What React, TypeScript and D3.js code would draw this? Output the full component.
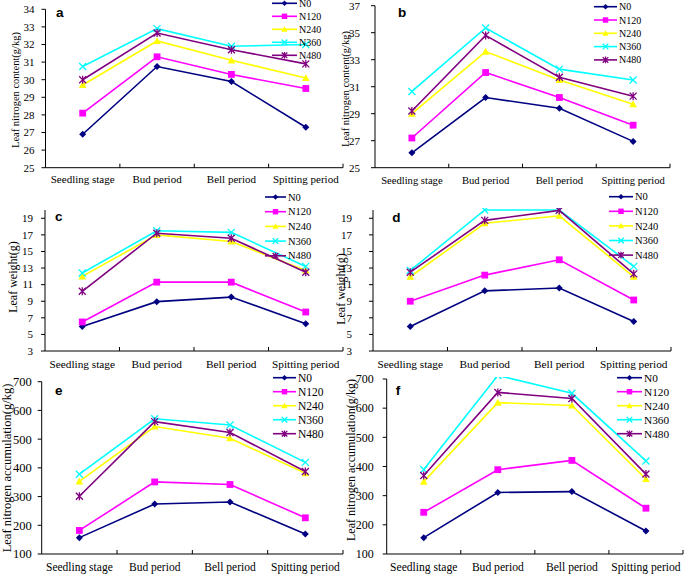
import React from "react";
import * as d3 from "d3";

const categories = ["Seedling stage", "Bud period", "Bell period", "Spitting period"];
const seriesNames = ["N0", "N120", "N240", "N360", "N480"];
const seriesColors = ["#000080", "#FF00FF", "#FFFF00", "#00FFFF", "#800080"];
const seriesMarkers = ["diamond", "square", "triangle", "x", "star"];

// a: leaf nitrogen content, year 1
const aValues = [
  [26.9, 30.75, 29.9, 27.3],
  [28.1, 31.3, 30.3, 29.5],
  [29.7, 32.2, 31.1, 30.1],
  [30.75, 32.9, 31.9, 32.0],
  [30.0, 32.65, 31.7, 30.9],
];
// b: leaf nitrogen content, year 2
const bValues = [
  [26.1, 30.2, 29.4, 26.95],
  [27.2, 32.05, 30.2, 28.15],
  [29.0, 33.6, 31.5, 29.7],
  [30.65, 35.35, 32.3, 31.5],
  [29.2, 34.8, 31.7, 30.3],
];
// c: leaf weight, year 1
const cValues = [
  [5.95, 8.95, 9.5, 6.3],
  [6.5, 11.3, 11.3, 7.7],
  [12.0, 17.0, 16.2, 12.7],
  [12.4, 17.5, 17.3, 13.2],
  [10.2, 17.2, 16.6, 12.5],
];
// d: leaf weight, year 2
const dValues = [
  [5.95, 10.25, 10.6, 6.55],
  [9.0, 12.15, 14.0, 9.15],
  [11.95, 18.4, 19.3, 11.95],
  [12.7, 20.0, 20.0, 13.2],
  [12.5, 18.75, 19.95, 12.3],
];
// e: leaf nitrogen accumulation, year 1
const eValues = [
  [157, 274, 281, 170],
  [182, 351, 342, 226],
  [353, 544, 503, 381],
  [378, 571, 549, 419],
  [301, 561, 523, 387],
];
// f: leaf nitrogen accumulation, year 2
const fValues = [
  [156, 311, 314, 179],
  [243, 389, 421, 257],
  [348, 619, 609, 357],
  [390, 712, 651, 419],
  [369, 654, 633, 374],
];

const aTicks = [25, 26, 27, 28, 29, 30, 31, 32, 33, 34];
const bTicks = [25, 27, 29, 31, 33, 35, 37];
const cdTicks = [3, 5, 7, 9, 11, 13, 15, 17, 19];
const efTicks = [100, 200, 300, 400, 500, 600, 700];

const labelContent = "Leaf nitrogen content(g/kg)";
const labelWeight = "Leaf weight(g)";
const labelAccum = "Leaf nitrogen accumulation(g/kg)";

const panels = [
  { id: "a", values: aValues, ticks: aTicks, domain: [25, 34], ylabel: labelContent,
    left: 45.5, right: 343, top: 9.3, bottom: 167.7,
    lg: { x1: 272, x2: 297, tx: 299, y0: 3.3, step: 13, fs: 10 },
    letter: [56, 17], yl: [15.5, 90, 10.5], tickFs: 11, gap: 11, catFs: 11, catY: 182.5 },
  { id: "b", values: bValues, ticks: bTicks, domain: [25, 37], ylabel: labelContent,
    left: 375, right: 670, top: 5.7, bottom: 167.7,
    lg: { x1: 594, x2: 617, tx: 619, y0: 6.7, step: 13.3, fs: 10 },
    letter: [398, 17.3], yl: [345, 89, 10.5], tickFs: 11, gap: 15, catFs: 10.6, catY: 183.5 },
  { id: "c", values: cValues, ticks: cdTicks, domain: [3, 20], ylabel: labelWeight,
    left: 45, right: 343, top: 210, bottom: 351,
    lg: { x1: 265, x2: 286, tx: 288, y0: 197, step: 14.7, fs: 10.5 },
    letter: [55, 220.7], yl: [12.5, 277, 12], tickFs: 11, gap: 12, catFs: 11.3, catY: 367.5 },
  { id: "d", values: dValues, ticks: cdTicks, domain: [3, 20], ylabel: labelWeight,
    left: 373, right: 671, top: 210, bottom: 351,
    lg: { x1: 609, x2: 633, tx: 635, y0: 196.7, step: 14.6, fs: 10.5 },
    letter: [392.3, 221.7], yl: [341, 289, 12], tickFs: 11, gap: 21, catFs: 11.3, catY: 367.5 },
  { id: "e", values: eValues, ticks: efTicks, domain: [100, 700], ylabel: labelAccum,
    left: 41.7, right: 343, top: 381.7, bottom: 554,
    lg: { x1: 273, x2: 296, tx: 298, y0: 377.7, step: 14, fs: 11.5 },
    letter: [55, 395], yl: [6.7, 468, 12.5], tickFs: 12.5, gap: 10, catFs: 11.5, catY: 571 },
  { id: "f", values: fValues, ticks: efTicks, domain: [100, 700], ylabel: labelAccum,
    left: 386.7, right: 683, top: 379, bottom: 554,
    lg: { x1: 617, x2: 642, tx: 644, y0: 377.7, step: 14, fs: 11.3 },
    letter: [395.7, 395], yl: [351, 460, 12], tickFs: 12, gap: 13, catFs: 11.6, catY: 571 },
];

const SERIF = '"Liberation Serif", "DejaVu Serif", serif';
const SANS = '"Liberation Sans", Arial, sans-serif';

function Marker({ kind, x, y, color, s = 1 }: { kind: string; x: number; y: number; color: string; s?: number }) {
  const r = 3.5 * s;
  if (kind === "diamond") {
    return <path d={`M${x},${y - r}L${x + r},${y}L${x},${y + r}L${x - r},${y}Z`} fill={color} />;
  }
  if (kind === "square") {
    const h = 3.4 * s;
    return <rect x={x - h} y={y - h} width={2 * h} height={2 * h} fill={color} />;
  }
  if (kind === "triangle") {
    const h = 3.8 * s;
    return <path d={`M${x},${y - h}L${x + h},${y + h * 0.8}L${x - h},${y + h * 0.8}Z`} fill={color} />;
  }
  if (kind === "x") {
    return (
      <path d={`M${x - r},${y - r}L${x + r},${y + r}M${x - r},${y + r}L${x + r},${y - r}`}
        stroke={color} strokeWidth={1.3} fill="none" />
    );
  }
  return (
    <path d={`M${x - r},${y - r}L${x + r},${y + r}M${x - r},${y + r}L${x + r},${y - r}M${x},${y - r - 0.5}L${x},${y + r + 0.5}`}
      stroke={color} strokeWidth={1.3} fill="none" />
  );
}

function Panel({ p }: { p: typeof panels[number] }) {
  const x = d3.scaleBand<string>().domain(categories).range([p.left, p.right]);
  const y = d3.scaleLinear().domain(p.domain).range([p.bottom, p.top]);
  const cx = (i: number) => (x(categories[i]) as number) + x.bandwidth() / 2;
  const line = d3.line<number>().x((_, i) => cx(i)).y((v) => y(v));
  const clipId = `clip-${p.id}`;
  const bounds = [...categories.map((c) => x(c) as number), p.right];
  const serif = { fontFamily: SERIF };
  return (
    <g>
      <defs>
        <clipPath id={clipId}>
          <rect x={p.left} y={p.top - 2} width={p.right - p.left + 2} height={p.bottom - p.top + 2} />
        </clipPath>
      </defs>
      <line x1={p.left} x2={p.left} y1={p.top} y2={p.bottom} stroke="#000" strokeWidth={1} />
      <line x1={p.left} x2={p.right} y1={p.bottom} y2={p.bottom} stroke="#000" strokeWidth={1} />
      {p.ticks.map((t) => (
        <g key={t}>
          <line x1={p.left - 4} x2={p.left} y1={y(t)} y2={y(t)} stroke="#000" strokeWidth={1} />
          <text x={p.left - p.gap} y={y(t)} dy="0.35em" textAnchor="end" style={{ ...serif, fontSize: p.tickFs }} fill="#000">
            {t}
          </text>
        </g>
      ))}
      {bounds.slice(1).map((bx, i) => (
        <line key={i} x1={bx} x2={bx} y1={p.bottom} y2={p.bottom - 4} stroke="#000" strokeWidth={1} />
      ))}
      {categories.map((c, i) => (
        <text key={c} x={cx(i)} y={p.catY} textAnchor="middle" style={{ ...serif, fontSize: p.catFs }} fill="#000">
          {c}
        </text>
      ))}
      <text transform={`translate(${p.yl[0]},${p.yl[1]}) rotate(-90)`} dy="0.35em" textAnchor="middle" style={{ ...serif, fontSize: p.yl[2] }} fill="#000">
        {p.ylabel}
      </text>
      <g clipPath={`url(#${clipId})`}>
        {p.values.map((vals, si) => (
          <g key={si}>
            <path d={line(vals) as string} fill="none" stroke={seriesColors[si]} strokeWidth={1.6} />
            {vals.map((v, i) => (
              <Marker key={i} kind={seriesMarkers[si]} x={cx(i)} y={y(v)} color={seriesColors[si]} />
            ))}
          </g>
        ))}
      </g>
      <text x={p.letter[0]} y={p.letter[1]} style={{ fontFamily: SANS, fontSize: 13.5, fontWeight: "bold" }} fill="#000">
        {p.id}
      </text>
      {seriesNames.map((n, si) => {
        const ly = p.lg.y0 + si * p.lg.step;
        return (
          <g key={n}>
            <line x1={p.lg.x1} x2={p.lg.x2} y1={ly} y2={ly} stroke={seriesColors[si]} strokeWidth={1.6} />
            <Marker kind={seriesMarkers[si]} x={(p.lg.x1 + p.lg.x2) / 2} y={ly} color={seriesColors[si]} s={0.8} />
            <text x={p.lg.tx} y={ly} dy="0.35em" style={{ ...serif, fontSize: p.lg.fs }} fill="#000">
              {n}
            </text>
          </g>
        );
      })}
    </g>
  );
}

export default function App() {
  return (
    <svg width={685} height={575} style={{ position: "absolute", left: 0, top: 0, background: "#fff" }}>
      <rect x={0} y={0} width={685} height={575} fill="#fff" />
      {panels.map((p) => (
        <Panel key={p.id} p={p} />
      ))}
    </svg>
  );
}
